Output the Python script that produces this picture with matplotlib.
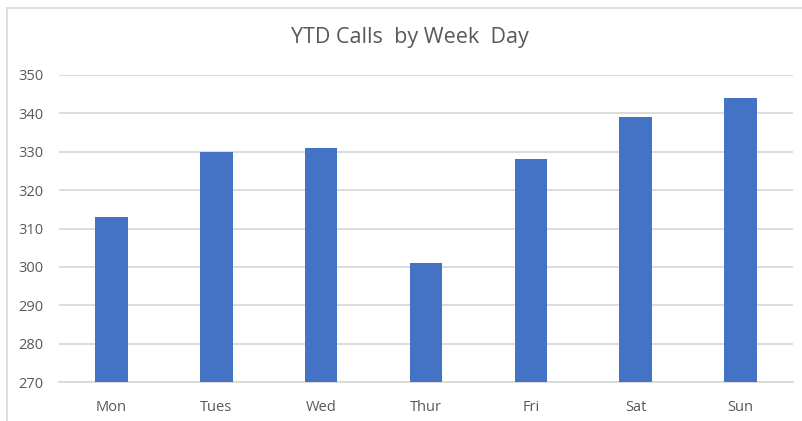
import matplotlib.pyplot as plt
from matplotlib.lines import Line2D

days = ['Mon', 'Tues', 'Wed', 'Thur', 'Fri', 'Sat', 'Sun']
calls = [313, 330, 331, 301, 328, 339, 344]
yticks = [270, 280, 290, 300, 310, 320, 330, 340, 350]

plt.rcParams['font.family'] = ['Open Sans', 'DejaVu Sans']

fig = plt.figure(figsize=(8.03, 4.21), dpi=100)
W, H = 803, 421

# chart border: only top and left edges show in the crop
fig.lines.append(Line2D([7 / W, 1.01], [1 - 8 / H, 1 - 8 / H], transform=fig.transFigure,
                        color='#d9d9d9', linewidth=1.2))
fig.lines.append(Line2D([7 / W, 7 / W], [-0.01, 1 - 8 / H], transform=fig.transFigure,
                        color='#d9d9d9', linewidth=1.2))

ax = fig.add_axes([59 / W, 39 / H, (793 - 59) / W, (382 - 75) / H])
x = range(len(days))
ax.bar(x, calls, width=0.31, color='#4472C4', zorder=3)

ax.set_xlim(-0.5, len(days) - 0.5)
ax.set_ylim(270, 350)
ax.set_yticks(yticks)
ax.set_xticks(list(x))
ax.set_xticklabels(days)
ax.grid(axis='y', color='#d9d9d9', linewidth=1.3, zorder=0)
ax.tick_params(length=0, labelsize=10.5, colors='#595959')
ax.tick_params(axis='x', pad=13)
for s in ['top', 'right', 'left']:
    ax.spines[s].set_visible(False)
ax.spines['bottom'].set_color('#d9d9d9')
ax.spines['bottom'].set_linewidth(1.3)
for t in ax.get_yticklabels():
    t.set_horizontalalignment('left')
ax.tick_params(axis='y', pad=29)

fig.text(410 / W, 1 - 38 / H, 'YTD Calls  by Week  Day', ha='center', va='center',
         fontsize=15.5, color='#595959')

fig.savefig('out.png', dpi=100)
